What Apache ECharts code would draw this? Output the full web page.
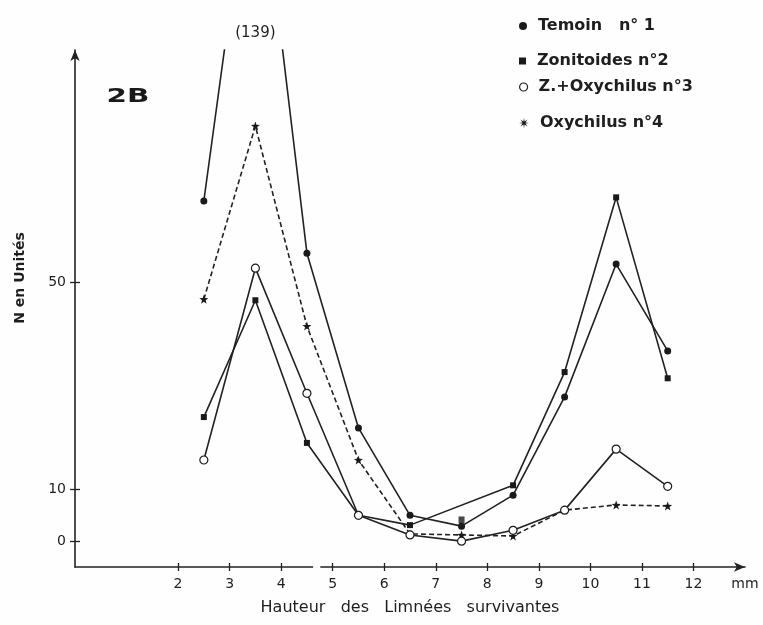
<!DOCTYPE html>
<html><head><meta charset="utf-8">
<script src="https://cdn.jsdelivr.net/npm/echarts@6/dist/echarts.min.js"></script>
<style>html,body{margin:0;padding:0;background:#fefefe}#c{width:763px;height:625px}</style>
</head><body><div id="c"></div>
<script>
// ---- data ----
const heights = [2.5, 3.5, 4.5, 5.5, 6.5, 7.5, 8.5, 9.5, 10.5, 11.5];
const temoin = [65.8, 139, 55.7, 21.9, 5.0, 2.9, 8.9, 27.9, 53.6, 36.8];
const zonitoides = [24.0, 46.6, 19.0, 5.0, 3.1, 4.1, 10.8, 32.7, 66.5, 31.5];
const zonitoidesUnjoined = [7.5];           // plotted point not joined by the drawn line
const zOxychilus = [15.7, 52.8, 28.6, 5.0, 1.2, 0.0, 2.1, 6.0, 17.8, 10.6];
const oxychilus = [46.8, 80.3, 41.6, 15.7, 1.4, 1.2, 1.0, 6.0, 7.0, 6.8];
const xTicks = [2, 3, 4, 5, 6, 7, 8, 9, 10, 11, 12];
const xUnitAt = 13;
const yTicks = [0, 10, 50];
const seriesNames = ['Temoin   n\u00b0 1', 'Zonitoides n\u00b02', 'Z.+Oxychilus n\u00b03', 'Oxychilus n\u00b04'];
const xTitle = 'Hauteur   des   Limn\u00e9es   survivantes';
const yTitle = 'N en Unit\u00e9s';
const panelLabel = '2B';
const xUnit = 'mm';

// ---- styles ----
const INK = '#222222';
const FONT = 'DejaVu Sans';
function starPath(n, rOut, rIn) {
  const pts = [];
  for (let k = 0; k < 2 * n; k++) {
    const r = k % 2 ? rIn : rOut;
    const a = -Math.PI / 2 + k * Math.PI / n;
    pts.push((r * Math.cos(a)).toFixed(2) + ',' + (r * Math.sin(a)).toFixed(2));
  }
  return 'path://M' + pts.join('L') + 'Z';
}
const STAR = starPath(5, 10, 4);
const ASTER = starPath(8, 10, 3.2);

const pairs = (arr, skip) => heights.map((h, i) => [h, arr[i]]).filter(p => !(skip || []).includes(p[0]));
const extraPts = (arr, keep) => heights.map((h, i) => [h, arr[i]]).filter(p => keep.includes(p[0]));

const chart = echarts.init(document.getElementById('c'), null, {renderer: 'canvas'});

const baseX = {
  type: 'value', min: 0, max: 13, position: 'bottom',
  splitLine: {show: false},
  axisLine: {onZero: false, show: true, lineStyle: {color: INK, width: 1.6}, symbol: ['none', 'arrow'], symbolSize: [7, 11]},
  axisTick: {show: true, length: 4, inside: false, lineStyle: {color: INK, width: 1.3}, customValues: xTicks},
  axisLabel: {show: true, margin: 10, color: '#1e1e1e', fontFamily: FONT, fontSize: 14,
    customValues: xTicks.concat([xUnitAt]),
    formatter: v => (v === xUnitAt ? xUnit : String(v))},
  name: xTitle, nameLocation: 'middle', nameGap: 33,
  nameTextStyle: {color: '#1e1e1e', fontFamily: FONT, fontSize: 16}
};
const innerX = {
  type: 'value', min: 0, max: 13, position: 'bottom',
  splitLine: {show: false}, axisLine: {show: false, onZero: false},
  axisTick: {show: true, length: 4, inside: true, lineStyle: {color: INK, width: 1.3}, customValues: xTicks},
  axisLabel: {show: false}
};
const baseY = {
  type: 'value', min: -5, max: 95, position: 'left',
  splitLine: {show: false},
  axisLine: {onZero: false, show: true, lineStyle: {color: INK, width: 1.6}, symbol: ['none', 'arrow'], symbolSize: [7, 11]},
  axisTick: {show: true, length: 5, inside: false, lineStyle: {color: INK, width: 1.3}, customValues: yTicks},
  axisLabel: {show: true, margin: 9, color: '#1e1e1e', fontFamily: FONT, fontSize: 14, customValues: yTicks}
};
const innerY = {
  type: 'value', min: -5, max: 95, position: 'left',
  splitLine: {show: false}, axisLine: {show: false, onZero: false},
  axisTick: {show: true, length: 5, inside: true, lineStyle: {color: INK, width: 1.3}, customValues: yTicks},
  axisLabel: {show: false}
};

const lineCommon = {type: 'line', xAxisIndex: 0, yAxisIndex: 0, clip: true, z: 3,
  lineStyle: {color: INK, width: 1.6}};

const legendIcons = ['circle', 'rect', 'circle', ASTER];
const legendSizes = [8, 7, 8, 10];
const legendStyles = [
  {color: '#1a1a1a'},
  {color: '#1a1a1a'},
  {color: '#ffffff', borderColor: '#222', borderWidth: 1.2},
  {color: '#1a1a1a'}
];
const legendTops = [13, 48, 74, 110];

chart.setOption({
  animation: false,
  backgroundColor: '#fefefe',
  grid: {left: 75, right: 18, top: 50, bottom: 58},
  xAxis: [baseX, innerX],
  yAxis: [baseY, innerY],
  legend: seriesNames.map((n, i) => ({
    left: 514, top: legendTops[i], selectedMode: false,
    itemWidth: legendSizes[i], itemHeight: legendSizes[i], itemGap: 10,
    textStyle: {color: '#1e1e1e', fontFamily: FONT, fontSize: 16, fontWeight: 'bold', padding: [0, 0, 0, 6]},
    data: [{name: n, icon: legendIcons[i], itemStyle: legendStyles[i]}]
  })),
  series: [
    Object.assign({}, lineCommon, {name: seriesNames[0], data: pairs(temoin),
      symbol: 'circle', symbolSize: 7, itemStyle: {color: '#1a1a1a'}}),
    Object.assign({}, lineCommon, {name: seriesNames[1], data: pairs(zonitoides, zonitoidesUnjoined),
      symbol: 'rect', symbolSize: 6, itemStyle: {color: '#1a1a1a'}}),
    {type: 'scatter', name: seriesNames[1], data: extraPts(zonitoides, zonitoidesUnjoined),
      symbol: 'rect', symbolSize: [6, 7], itemStyle: {color: '#1a1a1a'}, z: 4},
    Object.assign({}, lineCommon, {name: seriesNames[3], data: pairs(oxychilus),
      symbol: STAR, symbolSize: 9, itemStyle: {color: '#1a1a1a'},
      lineStyle: {color: INK, width: 1.6, type: [5, 3]}}),
    Object.assign({}, lineCommon, {name: seriesNames[2], data: pairs(zOxychilus), z: 5,
      symbol: 'circle', symbolSize: 8, itemStyle: {color: '#ffffff', borderColor: '#1a1a1a', borderWidth: 1.2}})
  ]
});

// annotations positioned through the axes
const peakIdx = temoin.indexOf(Math.max.apply(null, temoin));
const peakX = chart.convertToPixel({xAxisIndex: 0}, heights[peakIdx]);
const brkA = chart.convertToPixel({xAxisIndex: 0}, 4.62);
const brkB = chart.convertToPixel({xAxisIndex: 0}, 4.76);
const axisYpx = chart.convertToPixel({yAxisIndex: 0}, -5);
chart.setOption({
  graphic: [
    {type: 'text', x: peakX, y: 33, z: 10,
      style: {text: '(' + temoin[peakIdx] + ')', fill: '#1e1e1e', font: '15px "' + FONT + '"', align: 'center', verticalAlign: 'middle'}},
    {type: 'text', x: 128, y: 97, scaleX: 1.55, z: 10,
      style: {text: panelLabel, fill: '#1a1a1a', font: 'bold 19px "' + FONT + '"', align: 'center', verticalAlign: 'middle'}},
    {type: 'text', x: 20, y: 278, rotation: Math.PI / 2, z: 10,
      style: {text: yTitle, fill: '#1e1e1e', font: 'bold 14px "' + FONT + '"', align: 'center', verticalAlign: 'middle'}},
    {type: 'rect', z: 20, shape: {x: brkA, y: axisYpx - 2, width: brkB - brkA, height: 4},
      style: {fill: '#fefefe'}}
  ]
});
</script></body></html>
